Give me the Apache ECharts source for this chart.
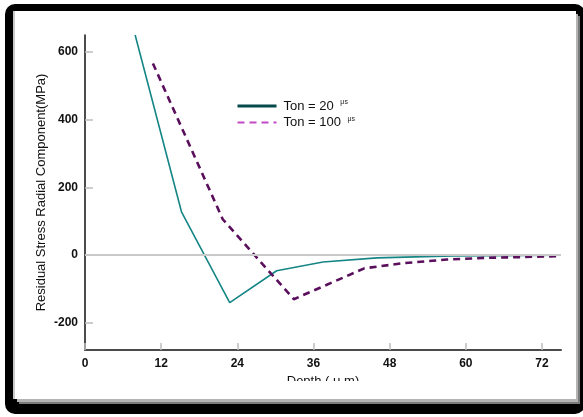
<!DOCTYPE html>
<html>
<head>
<meta charset="utf-8">
<script src="https://cdn.jsdelivr.net/npm/echarts@6/dist/echarts.min.js"></script>
<style>
  html, body { margin: 0; padding: 0; background: #fff; }
  #wrap { position: relative; width: 583px; height: 417px; overflow: hidden; background: #fff; }
  #frame { position: absolute; left: 5px; top: 4px; width: 580px; height: 410px; background: #000; border-radius: 10px; }
  #panel { position: absolute; left: 15px; top: 11px; width: 561px; height: 388px; background: #fff;
           box-shadow: 2px 3px 0 #b4b4b4, 4px 5px 0 #7a7a7a, -2px 0 0 #c8c8c8; }
  #chart { position: absolute; left: 0; top: 0; width: 583px; height: 417px; }
  #cut { position: absolute; left: 270px; top: 381px; width: 100px; height: 18px; background: #fff; }
</style>
</head>
<body>
<div id="wrap">
  <div id="frame"></div>
  <div id="panel"></div>
  <div id="chart"></div>
  <div id="cut"></div>
</div>
<script>
// Depth (µm) / radial residual stress (MPa) pairs for the two pulse-on times
const ton20Depth   = [7.9, 15.2, 22.8, 30.2, 37.5, 46, 58, 75];
const ton20Stress  = [650, 128, -140, -46, -20, -8, -2, 0];
const ton100Depth  = [10.7, 21.7, 32.9, 44, 50, 57, 63, 75];
const ton100Stress = [566, 106, -130, -39, -24, -13, -8, -3];

const xTicks = [0, 12, 24, 36, 48, 60, 72];
const yTicks = [-200, 0, 200, 400, 600];
const seriesNames = ['Ton = 20', 'Ton = 100'];

const pairs = (xs, ys) => xs.map((x, i) => [x, ys[i]]);

const chart = echarts.init(document.getElementById('chart'), null, { renderer: 'canvas' });
const font = 'Liberation Sans, Arial, Helvetica, sans-serif';

chart.setOption({
  backgroundColor: 'transparent',
  animation: false,
  grid: { left: 85, right: 22, top: 35, bottom: 67 },
  legend: {
    orient: 'vertical',
    left: 231, top: 94,
    itemWidth: 39, itemHeight: 12, itemGap: 3,
    formatter: n => n + ' {s|μs}',
    textStyle: {
      fontFamily: font, fontSize: 13, color: '#111', padding: [0, 0, 0, 2],
      rich: { s: { fontSize: 7, color: '#222', verticalAlign: 'top', padding: [0, 0, 7, 3] } }
    },
    data: [
      { name: seriesNames[0], itemStyle: { opacity: 0 }, lineStyle: { color: '#06494a', width: 3, type: 'solid' } },
      { name: seriesNames[1], itemStyle: { opacity: 0 }, lineStyle: { color: '#c24ac2', width: 2, type: [7, 5] } }
    ]
  },
  xAxis: {
    type: 'value', min: 0, max: 75,
    name: 'Depth ( μ m)', nameLocation: 'middle', nameGap: 24,
    nameTextStyle: { fontFamily: font, fontSize: 13, color: '#111' },
    axisLine: { show: true, onZero: false, lineStyle: { color: '#4a4a4a', width: 2 } },
    axisTick: { show: true, inside: true, length: 7, customValues: xTicks, lineStyle: { color: '#bdbdbd', width: 1.5 } },
    axisLabel: { customValues: xTicks, margin: 8, fontFamily: font, fontSize: 12, fontWeight: 'bold', color: '#111' },
    splitLine: { show: false }
  },
  yAxis: {
    type: 'value', min: -280, max: 650,
    name: 'Residual Stress Radial Component(MPa)', nameLocation: 'middle', nameGap: 37,
    nameMoveOverlap: false,
    nameTextStyle: { fontFamily: font, fontSize: 13, color: '#111' },
    axisLine: { show: true, onZero: false, lineStyle: { color: '#111', width: 1.5 } },
    axisTick: { show: true, inside: true, length: 8, customValues: yTicks, lineStyle: { color: '#bdbdbd', width: 1.5 } },
    axisLabel: { customValues: yTicks, margin: 7, fontFamily: font, fontSize: 12, fontWeight: 'bold', color: '#111' },
    splitLine: { show: false }
  },
  series: [
    {
      name: seriesNames[0], type: 'line', symbol: 'none', z: 3,
      data: pairs(ton20Depth, ton20Stress),
      lineStyle: { color: '#168585', width: 1.6 },
      itemStyle: { color: '#168585' },
      markLine: {
        silent: true, symbol: 'none', label: { show: false },
        lineStyle: { color: '#c9c9c9', type: 'solid', width: 2 },
        data: [{ yAxis: 0 }]
      }
    },
    {
      name: seriesNames[1], type: 'line', symbol: 'none', z: 4,
      data: pairs(ton100Depth, ton100Stress),
      lineStyle: { color: '#5a0f5c', width: 2.6, type: [7, 5] },
      itemStyle: { color: '#5a0f5c' }
    }
  ]
});
</script>
</body>
</html>
